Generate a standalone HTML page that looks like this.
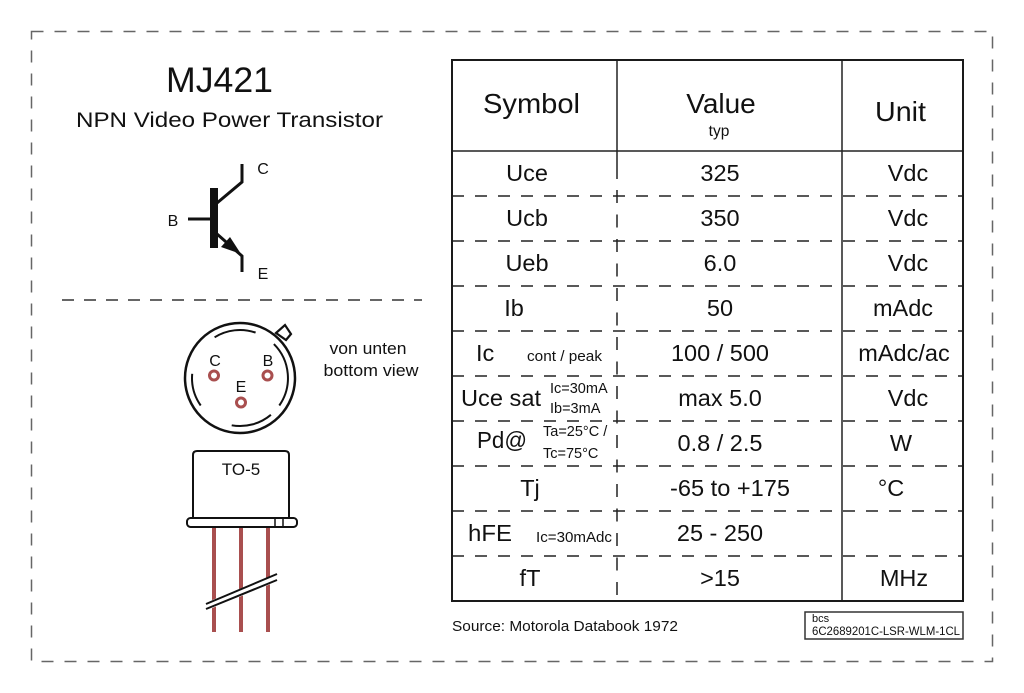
<!DOCTYPE html>
<html><head><meta charset="utf-8"><style>
html,body{margin:0;padding:0;background:#fff;}
svg{display:block;}
text{font-family:"Liberation Sans",Arial,sans-serif;fill:#111;}
</style></head><body>
<svg width="1024" height="693" viewBox="0 0 1024 693" xmlns="http://www.w3.org/2000/svg">
<rect x="0" y="0" width="1024" height="693" fill="#fff"/>
<!-- outer dashed border -->
<rect x="31.5" y="31.5" width="961" height="630" fill="none" stroke="#666" stroke-width="1.5" stroke-dasharray="12 11"/>

<!-- title -->
<text x="166" y="92" font-size="35" textLength="107" lengthAdjust="spacingAndGlyphs">MJ421</text>
<text x="76" y="127" font-size="21" textLength="307" lengthAdjust="spacingAndGlyphs">NPN Video Power Transistor</text>

<!-- transistor symbol -->
<g stroke="#111" stroke-width="3" fill="none" stroke-linecap="butt">
  <line x1="188" y1="219" x2="211" y2="219"/>
  <polyline points="217,203 242,182 242,164"/>
  <polyline points="217,234 242,256 242,272"/>
</g>
<rect x="210" y="188" width="8" height="60" fill="#111"/>
<polygon points="221,247 230,237 241,254" fill="#111"/>
<text x="263" y="174" font-size="16" text-anchor="middle">C</text>
<text x="173" y="226" font-size="16" text-anchor="middle">B</text>
<text x="263" y="279" font-size="16" text-anchor="middle">E</text>

<!-- left divider -->
<line x1="62" y1="300" x2="422" y2="300" stroke="#333" stroke-width="1.5" stroke-dasharray="12 10"/>

<!-- bottom view -->
<polygon points="276,333 285,325 291,334 286,340" fill="#fff" stroke="#111" stroke-width="2.2" stroke-linejoin="miter"/>
<circle cx="240" cy="378" r="55" fill="#fff" stroke="#111" stroke-width="2.5"/>
<g stroke="#111" stroke-width="2" fill="none">
  <!-- arcs at r=48, center 240,378 -->
  <path d="M 214.6 337.3 A 48 48 0 0 1 255.6 332.6"/>
  <path d="M 273.9 344.1 A 48 48 0 0 1 279.3 405.5"/>
  <path d="M 270.9 414.8 A 48 48 0 0 1 231.7 425.3"/>
  <path d="M 200.7 405.5 A 48 48 0 0 1 192.2 373.8"/>
</g>
<g stroke="#a94f4f" stroke-width="3" fill="#fff">
  <circle cx="214" cy="375.5" r="4.5"/>
  <circle cx="267.5" cy="375.5" r="4.5"/>
  <circle cx="241" cy="402.5" r="4.5"/>
</g>
<text x="215" y="366" font-size="16" text-anchor="middle">C</text>
<text x="268" y="366" font-size="16" text-anchor="middle">B</text>
<text x="241" y="392" font-size="16" text-anchor="middle">E</text>
<text x="368" y="354" font-size="16.5" text-anchor="middle" textLength="77" lengthAdjust="spacingAndGlyphs">von unten</text>
<text x="371" y="376" font-size="16.5" text-anchor="middle" textLength="95" lengthAdjust="spacingAndGlyphs">bottom view</text>

<!-- TO-5 package -->
<g stroke="#a94f4f" stroke-width="4">
  <line x1="214" y1="527" x2="214" y2="632"/>
  <line x1="241" y1="527" x2="241" y2="632"/>
  <line x1="268" y1="527" x2="268" y2="632"/>
</g>
<polygon points="205,603 278,573 278,581 205,611" fill="#fff"/>
<g stroke="#111" stroke-width="2">
  <line x1="206" y1="604" x2="277" y2="574"/>
  <line x1="206" y1="609" x2="277" y2="580"/>
</g>
<path d="M 193 518 L 193 455 Q 193 451 197 451 L 285 451 Q 289 451 289 455 L 289 518" fill="#fff" stroke="#111" stroke-width="2"/>
<rect x="187" y="518" width="110" height="9" rx="3.5" ry="3.5" fill="#fff" stroke="#111" stroke-width="2"/>
<line x1="275" y1="519" x2="275" y2="526" stroke="#111" stroke-width="1.5"/>
<line x1="283" y1="519" x2="283" y2="526" stroke="#111" stroke-width="1.5"/>
<text x="241" y="475" font-size="17" text-anchor="middle">TO-5</text>

<!-- table -->
<g stroke="#222" stroke-width="1.5" fill="none">
  <g stroke-dasharray="12 11">
    <line x1="452" y1="196" x2="963" y2="196"/>
    <line x1="452" y1="241" x2="963" y2="241"/>
    <line x1="452" y1="286" x2="963" y2="286"/>
    <line x1="452" y1="331" x2="963" y2="331"/>
    <line x1="452" y1="376" x2="963" y2="376"/>
    <line x1="452" y1="421" x2="963" y2="421"/>
    <line x1="452" y1="466" x2="963" y2="466"/>
    <line x1="452" y1="511" x2="963" y2="511"/>
    <line x1="452" y1="556" x2="963" y2="556"/>
  </g>
  <line x1="617" y1="60" x2="617" y2="179"/>
  <line x1="617" y1="190" x2="617" y2="601" stroke-dasharray="13 11.5"/>
  <line x1="842" y1="60" x2="842" y2="601"/>
  <line x1="452" y1="151" x2="963" y2="151"/>
</g>
<rect x="452" y="60" width="511" height="541" fill="none" stroke="#1a1a1a" stroke-width="2"/>

<!-- header -->
<text x="483" y="113" font-size="28" textLength="97" lengthAdjust="spacingAndGlyphs">Symbol</text>
<text x="721" y="113" font-size="28" text-anchor="middle">Value</text>
<text x="719" y="136" font-size="15.5" text-anchor="middle">typ</text>
<text x="875" y="121" font-size="28" textLength="51" lengthAdjust="spacingAndGlyphs">Unit</text>

<g font-size="23.5">
<!-- symbol column -->
<text x="527" y="181" text-anchor="middle" font-size="23.5">Uce</text>
<text x="527" y="226" text-anchor="middle" font-size="23.5">Ucb</text>
<text x="527" y="271" text-anchor="middle" font-size="23.5">Ueb</text>
<text x="514" y="316" text-anchor="middle" font-size="23.5">Ib</text>
<text x="476" y="361" font-size="23.5">Ic</text>
<text x="461" y="406" font-size="23.5" textLength="80" lengthAdjust="spacingAndGlyphs">Uce sat</text>
<text x="477" y="448" font-size="23.5" textLength="50" lengthAdjust="spacingAndGlyphs">Pd@</text>
<text x="530" y="496" text-anchor="middle" font-size="23.5">Tj</text>
<text x="468" y="541" font-size="23.5" textLength="44" lengthAdjust="spacingAndGlyphs">hFE</text>
<text x="530" y="586" text-anchor="middle" font-size="23.5">fT</text>
<!-- value column -->
<text x="720" y="181" text-anchor="middle" font-size="23.5">325</text>
<text x="720" y="226" text-anchor="middle" font-size="23.5">350</text>
<text x="720" y="271" text-anchor="middle" font-size="23.5">6.0</text>
<text x="720" y="316" text-anchor="middle" font-size="23.5">50</text>
<text x="720" y="361" text-anchor="middle" font-size="23.5">100 / 500</text>
<text x="720" y="406" text-anchor="middle" font-size="23.5">max 5.0</text>
<text x="720" y="451" text-anchor="middle" font-size="23.5">0.8 / 2.5</text>
<text x="730" y="496" text-anchor="middle" font-size="23.5" textLength="120" lengthAdjust="spacingAndGlyphs">-65 to +175</text>
<text x="720" y="541" text-anchor="middle" font-size="23.5">25 - 250</text>
<text x="720" y="586" text-anchor="middle" font-size="23.5">&gt;15</text>
<!-- unit column -->
<text x="908" y="181" text-anchor="middle" font-size="23.5">Vdc</text>
<text x="908" y="226" text-anchor="middle" font-size="23.5">Vdc</text>
<text x="908" y="271" text-anchor="middle" font-size="23.5">Vdc</text>
<text x="903" y="316" text-anchor="middle" font-size="23.5">mAdc</text>
<text x="904" y="361" text-anchor="middle" font-size="23.5">mAdc/ac</text>
<text x="908" y="406" text-anchor="middle" font-size="23.5">Vdc</text>
<text x="901" y="451" text-anchor="middle" font-size="23.5">W</text>
<text x="891" y="496" text-anchor="middle" font-size="23.5">°C</text>
<text x="904" y="586" text-anchor="middle" font-size="23.5">MHz</text>
</g>

<!-- small annotations -->
<text x="527" y="361" font-size="14.5" textLength="75" lengthAdjust="spacingAndGlyphs">cont / peak</text>
<text x="550" y="393" font-size="14.5">Ic=30mA</text>
<text x="550" y="413" font-size="14.5">Ib=3mA</text>
<text x="543" y="436" font-size="14.5">Ta=25°C /</text>
<text x="543" y="458" font-size="14.5">Tc=75°C</text>
<text x="536" y="542" font-size="14.5" textLength="76" lengthAdjust="spacingAndGlyphs">Ic=30mAdc</text>

<!-- footer -->
<text x="452" y="631" font-size="15" textLength="226" lengthAdjust="spacingAndGlyphs">Source: Motorola Databook 1972</text>
<rect x="805" y="612" width="158" height="27" fill="none" stroke="#333" stroke-width="1.5"/>
<text x="812" y="622" font-size="11">bcs</text>
<text x="812" y="635" font-size="11.5" textLength="148" lengthAdjust="spacingAndGlyphs">6C2689201C-LSR-WLM-1CL</text>
</svg>
</body></html>
